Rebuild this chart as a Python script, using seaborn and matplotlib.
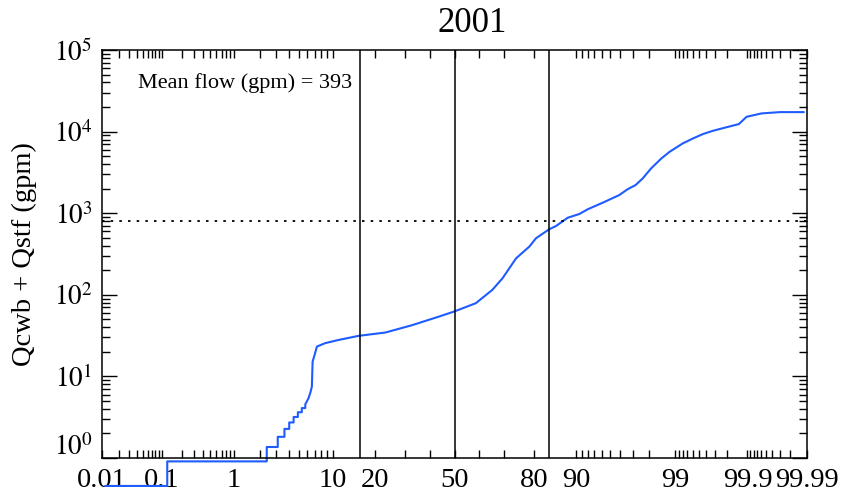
import math
import numpy as np
import pandas as pd
import seaborn as sns
import matplotlib
matplotlib.use("Agg")
import matplotlib.pyplot as plt
from matplotlib.ticker import FixedLocator, FixedFormatter, LogLocator, NullFormatter
from matplotlib.transforms import ScaledTranslation

# Flow duration curve for 2001: cumulative probability (%) vs flow (gpm)
prob_pct = [0.0114, 0.122, 0.122, 2.38, 2.38, 3.11, 3.11, 3.64, 3.64, 4.06, 4.06,
            4.48, 4.48, 4.92, 4.92, 5.36, 5.36, 5.77, 5.77, 6.18, 6.45, 6.62,
            6.72, 7.0, 7.33, 8.65, 11.1, 15.6, 23.3, 32.8, 43.5,
            49.8, 58.9, 65.5, 69.4, 74.2, 78.5, 80.5, 84.1, 85.8, 88.4, 90.6,
            92.0, 94.1, 95.9, 96.6, 97.2, 97.65, 98.1, 98.55, 98.84, 99.20,
            99.41, 99.56, 99.68, 99.78, 99.865, 99.897, 99.940, 99.970, 99.9886]
flow_gpm = [0.4545, 0.4545, 0.909, 0.909, 1.364, 1.364, 1.818, 1.818, 2.273, 2.273, 2.727,
            2.727, 3.182, 3.182, 3.636, 3.636, 4.091, 4.091, 4.55, 5.42, 6.5, 7.52,
            15.2, 18.4, 23.2, 25.6, 28.0, 31.4, 34.5, 42.5, 54.1,
            62.3, 78.9, 114.8, 159.7, 280, 389, 493, 635, 697, 881, 977,
            1116, 1344, 1670, 1962, 2215, 2673, 3546, 4700, 5660, 7176,
            8260, 9316, 10230, 11140, 12360, 15180, 16700, 17330, 17330]

mean_flow = 393
threshold_gpm = 810
sigma_pct = [15.87, 50.0, 84.13]

major_pct = [0.01, 0.1, 1, 10, 20, 50, 80, 90, 99, 99.9, 99.99]
major_lbl = ["0.01", "0.1", "1", "10", "20", "50", "80", "90", "99", "99.9", "99.99"]
minor_pct = ([0.02, 0.03, 0.04, 0.05, 0.06, 0.07, 0.08, 0.09]
             + [0.2, 0.3, 0.4, 0.5, 0.6, 0.7, 0.8, 0.9]
             + [2, 3, 4, 5, 6, 7, 8, 9]
             + [30, 40, 60, 70]
             + [91, 92, 93, 94, 95, 96, 97, 98]
             + [99.1, 99.2, 99.3, 99.4, 99.5, 99.6, 99.7, 99.8]
             + [99.91, 99.92, 99.93, 99.94, 99.95, 99.96, 99.97, 99.98])
y_major = [1, 10, 100, 1000, 10000, 100000]
y_lbl = [r"$10^{0}$", r"$10^{1}$", r"$10^{2}$", r"$10^{3}$", r"$10^{4}$", r"$10^{5}$"]


# Normal-probability axis: percent <-> standard normal quantile
_A = [-3.969683028665376e+01, 2.209460984245205e+02, -2.759285104469687e+02,
      1.383577518672690e+02, -3.066479806614716e+01, 2.506628277459239e+00]
_B = [-5.447609879822406e+01, 1.615858368580409e+02, -1.556989798598866e+02,
      6.680131188771972e+01, -1.328068155288572e+01]
_C = [-7.784894002430293e-03, -3.223964580411365e-01, -2.400758277161838e+00,
      -2.549732539343734e+00, 4.374664141464968e+00, 2.938163982698783e+00]
_D = [7.784695709041462e-03, 3.224671290700398e-01, 2.445134137142996e+00,
      3.754408661907416e+00]


def _ppf(pct):
    p = np.clip(np.asarray(pct, dtype=float) / 100.0, 1e-12, 1 - 1e-12)
    out = np.empty_like(p)
    lo = p < 0.02425
    hi = p > 1 - 0.02425
    mid = ~(lo | hi)
    q = np.sqrt(-2 * np.log(p[lo]))
    out[lo] = ((((( _C[0]*q + _C[1])*q + _C[2])*q + _C[3])*q + _C[4])*q + _C[5]) / \
              ((((_D[0]*q + _D[1])*q + _D[2])*q + _D[3])*q + 1)
    q = np.sqrt(-2 * np.log(1 - p[hi]))
    out[hi] = -((((( _C[0]*q + _C[1])*q + _C[2])*q + _C[3])*q + _C[4])*q + _C[5]) / \
              ((((_D[0]*q + _D[1])*q + _D[2])*q + _D[3])*q + 1)
    q = p[mid] - 0.5
    r = q * q
    out[mid] = (((((_A[0]*r + _A[1])*r + _A[2])*r + _A[3])*r + _A[4])*r + _A[5]) * q / \
               (((((_B[0]*r + _B[1])*r + _B[2])*r + _B[3])*r + _B[4])*r + 1)
    return out


_erf = np.vectorize(math.erf, otypes=[float])


def _cdf(z):
    return 50.0 * (1.0 + _erf(np.asarray(z, dtype=float) / math.sqrt(2.0)))


sns.set_theme(style="ticks")
plt.rcParams["font.family"] = ["Liberation Serif", "DejaVu Serif"]
plt.rcParams["mathtext.fontset"] = "stix"
plt.rcParams["text.color"] = "black"
plt.rcParams["axes.labelcolor"] = "black"

fig = plt.figure(figsize=(8.44, 5.04), dpi=100)
ax = fig.add_axes([102 / 844, 1 - 458 / 504, 705 / 844, 408 / 504])

ax.set_xscale("function", functions=(_ppf, _cdf))
ax.set_yscale("log")
ax.set_xlim(0.01, 99.99)
ax.set_ylim(1, 1e5)

df = pd.DataFrame({"prob": prob_pct, "flow": flow_gpm})
sns.lineplot(data=df, x="prob", y="flow", ax=ax, estimator=None, sort=False,
             color="#1f5cff", linewidth=1.5)
for ln in ax.lines:
    ln.set_clip_on(False)

for p in sigma_pct:
    ax.axvline(p, color="black", linewidth=1.1)
ax.axhline(threshold_gpm, color="black", linewidth=1.3, linestyle=(0, (1.4, 3.4)))

ax.text((138 - 102) / 705, 0.92, f"Mean flow (gpm) = {mean_flow}",
        transform=ax.transAxes, fontsize=16, va="center", ha="left", color="black")

ax.xaxis.set_major_locator(FixedLocator(major_pct))
ax.xaxis.set_major_formatter(FixedFormatter(major_lbl))
ax.xaxis.set_minor_locator(FixedLocator(minor_pct))
ax.xaxis.set_minor_formatter(NullFormatter())
ax.yaxis.set_major_locator(FixedLocator(y_major))
ax.yaxis.set_major_formatter(FixedFormatter(y_lbl))
ax.yaxis.set_minor_locator(LogLocator(base=10, subs=np.arange(2, 10)))
ax.yaxis.set_minor_formatter(NullFormatter())

ax.tick_params(which="both", direction="in", top=True, right=True,
               color="black", width=1.0, labelcolor="black")
ax.tick_params(axis="x", which="both", length=6, pad=7, labelsize=20.5)
ax.tick_params(axis="y", which="major", length=11, pad=7, labelsize=19.5)
ax.tick_params(axis="y", which="minor", length=5.5)
for s in ax.spines.values():
    s.set_color("black")
    s.set_linewidth(1.1)
ax.set_facecolor("white")
ax.grid(False)

ax.set_xlabel("")
ax.set_ylabel("Qcwb + Qstf (gpm)", fontsize=20.5, color="black")
ax.yaxis.set_label_coords(-0.092, 0.5)

fig.text(472 / 844, 1 - 23 / 504, "2001", fontsize=25, ha="center", va="center",
         color="black")

fig.canvas.draw()
first = ax.yaxis.get_major_ticks()[0].label1
first.set_transform(first.get_transform() + ScaledTranslation(0, 10 / 72, fig.dpi_scale_trans))

fig.savefig("out.png", dpi=100, facecolor="white")
